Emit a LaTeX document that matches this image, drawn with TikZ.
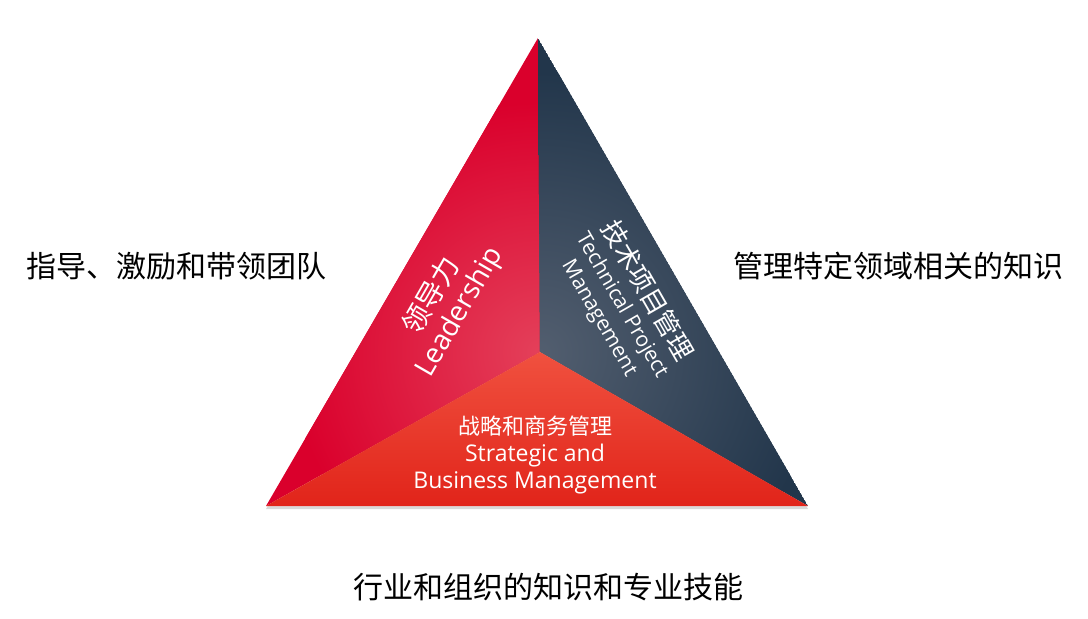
\documentclass[tikz,border=0pt]{standalone}
\usepackage{fontspec}
\setmainfont{Open Sans}
\newfontfamily\cjk{Noto Sans CJK SC}
\usetikzlibrary{shadows}

\definecolor{leadred}{HTML}{DA002C}
\definecolor{leadpink}{HTML}{E4405A}
\definecolor{technavy}{HTML}{22364B}
\definecolor{techgrey}{HTML}{525E6F}
\definecolor{bizred}{HTML}{E1241A}
\definecolor{bizlight}{HTML}{F0513F}

\begin{document}
\begin{tikzpicture}[
    x=1pt, y=-1pt,
    facetext/.style={text=white, align=center, inner sep=0pt},
    sidetext/.style={text=black, inner sep=0pt, font=\cjk\fontsize{30}{34}\selectfont}
]
    \useasboundingbox (0,0) rectangle (1088,619);

    % Corners of the triangle
    \coordinate (top) at (538,38);
    \coordinate (left) at (266,506);
    \coordinate (right) at (808,506);
    \coordinate (mid) at (540,352);

    % Shadow of the whole triangle
    \fill[white, drop shadow={shadow xshift=0pt, shadow yshift=-3pt, opacity=0.3}]
        (top) -- (right) -- (left) -- cycle;

    % Left face: leadership
    \begin{scope}
        \clip (top) -- (mid) -- (left) -- cycle;
        \fill[leadred] (top) -- (mid) -- (left) -- cycle;
        \shade[inner color=leadpink, outer color=leadred] (mid) circle (250pt);
    \end{scope}

    % Right face: technical project management
    \begin{scope}
        \clip (top) -- (right) -- (mid) -- cycle;
        \fill[technavy] (top) -- (right) -- (mid) -- cycle;
        \shade[inner color=techgrey, outer color=technavy] (mid) circle (280pt);
    \end{scope}

    % Bottom face: strategic and business management
    \begin{scope}
        \clip (left) -- (mid) -- (right) -- cycle;
        \shade[top color=bizlight, bottom color=bizred] (266,352) rectangle (808,506);
    \end{scope}

    % Face texts
    \node[facetext, rotate=60, font=\fontsize{28}{31}\selectfont] (lead) at (446,304)
        {{\cjk 领导力}\\Leadership};
    \node[facetext, rotate=-60, font=\fontsize{21}{26}\selectfont] (tech) at (624,304)
        {{\cjk\fontsize{26}{26}\selectfont 技术项目管理}\\Technical Project\\Management};
    \node[facetext, font=\fontsize{23}{27}\selectfont] (biz) at (535,455)
        {{\cjk\fontsize{22}{27}\selectfont 战略和商务管理}\\Strategic and\\Business Management};

    % Side texts
    \node[sidetext] (guide) at (177,266) {指导、激励和带领团队};
    \node[sidetext] (domain) at (898,266) {管理特定领域相关的知识};
    \node[sidetext] (industry) at (548,587) {行业和组织的知识和专业技能};

\end{tikzpicture}
\end{document}
